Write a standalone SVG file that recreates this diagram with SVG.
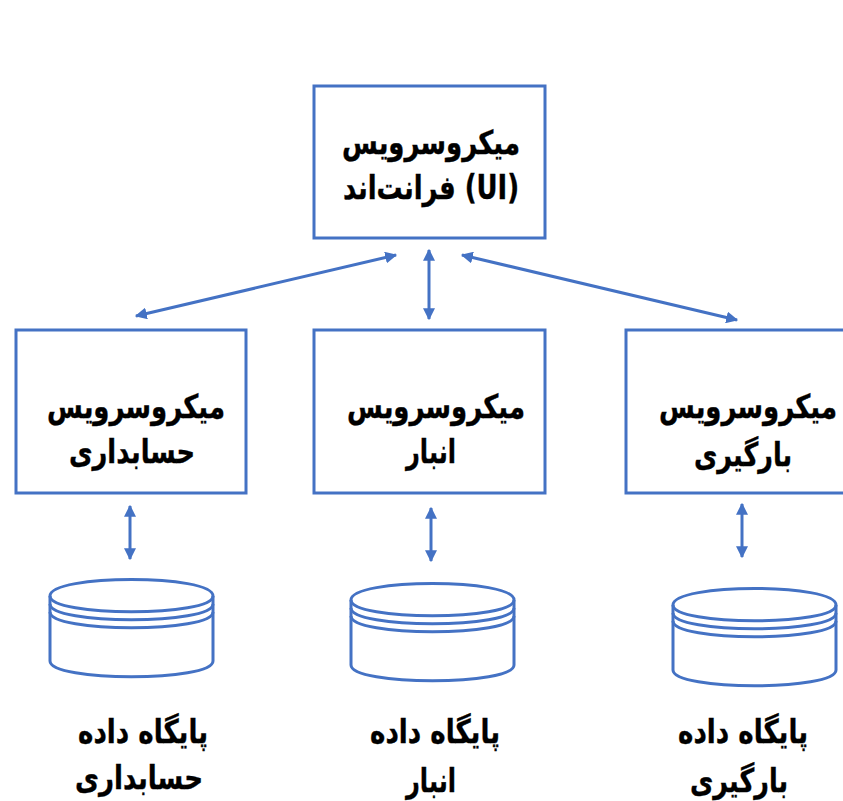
<svg xmlns="http://www.w3.org/2000/svg" width="843" height="801" viewBox="0 0 843 801">
<style>
.box{fill:#fff;stroke:#4472C4;stroke-width:3}
.db{fill:none;stroke:#4472C4;stroke-width:3}
.c{fill:none;stroke:#4472C4;stroke-width:3;marker-start:url(#a);marker-end:url(#a)}
text{font-family:"DejaVu Sans",sans-serif;font-weight:700;font-size:33px;fill:#000;text-anchor:middle;stroke:#000;stroke-width:.4px}
</style>
<defs>
<marker id="a" viewBox="0 0 10 10" refX="9" refY="5" markerWidth="12" markerHeight="12" markerUnits="userSpaceOnUse" orient="auto-start-reverse"><path d="M0 0L10 5L0 10z" fill="#4472C4"/></marker>
<g id="cyl">
<path class="db" d="M0 0C0 -22 163 -22 163 0V65C163 86 0 86 0 65Z"/>
<path class="db" d="M0 0C0 21 163 21 163 0M0 8C0 29 163 29 163 8M0 16C0 37 163 37 163 16"/>
</g>
</defs>
<g id="connectors">
<path class="c" d="M136 316L396 255"/>
<path class="c" d="M429 250V319"/>
<path class="c" d="M462 255L737 320"/>
<path class="c" d="M130 506V559"/>
<path class="c" d="M431 508V561"/>
<path class="c" d="M742 504V557"/>
</g>
<g id="ui"><rect class="box" x="314" y="86" width="231" height="152"/>
<text x="431" y="154" textLength="178" lengthAdjust="spacingAndGlyphs">میکروسرویس</text>
<text x="431" y="199" textLength="176" lengthAdjust="spacingAndGlyphs">فرانت‌اند (UI)</text></g>
<g id="accounting"><rect class="box" x="16" y="330" width="230" height="163"/>
<text x="136" y="418" textLength="178" lengthAdjust="spacingAndGlyphs">میکروسرویس</text>
<text x="132" y="463" textLength="126" lengthAdjust="spacingAndGlyphs">حسابداری</text></g>
<g id="warehouse"><rect class="box" x="314" y="330" width="231" height="163"/>
<text x="436" y="418" textLength="178" lengthAdjust="spacingAndGlyphs">میکروسرویس</text>
<text x="431" y="463" textLength="50" lengthAdjust="spacingAndGlyphs">انبار</text></g>
<g id="shipping"><rect class="box" x="626" y="330" width="230" height="163"/>
<text x="837" y="418" style="text-anchor:end" textLength="178" lengthAdjust="spacingAndGlyphs">میکروسرویس</text>
<text x="743" y="466" textLength="98" lengthAdjust="spacingAndGlyphs">بارگیری</text></g>
<g id="db-accounting"><use href="#cyl" x="50" y="596"/>
<text x="143" y="743" textLength="130" lengthAdjust="spacingAndGlyphs">پایگاه داده</text>
<text x="139" y="789" textLength="128" lengthAdjust="spacingAndGlyphs">حسابداری</text></g>
<g id="db-warehouse"><use href="#cyl" x="351" y="600"/>
<text x="435" y="743" textLength="130" lengthAdjust="spacingAndGlyphs">پایگاه داده</text>
<text x="431" y="792" textLength="50" lengthAdjust="spacingAndGlyphs">انبار</text></g>
<g id="db-shipping"><use href="#cyl" x="673" y="605"/>
<text x="743" y="743" textLength="130" lengthAdjust="spacingAndGlyphs">پایگاه داده</text>
<text x="739" y="792" textLength="98" lengthAdjust="spacingAndGlyphs">بارگیری</text></g>
</svg>
